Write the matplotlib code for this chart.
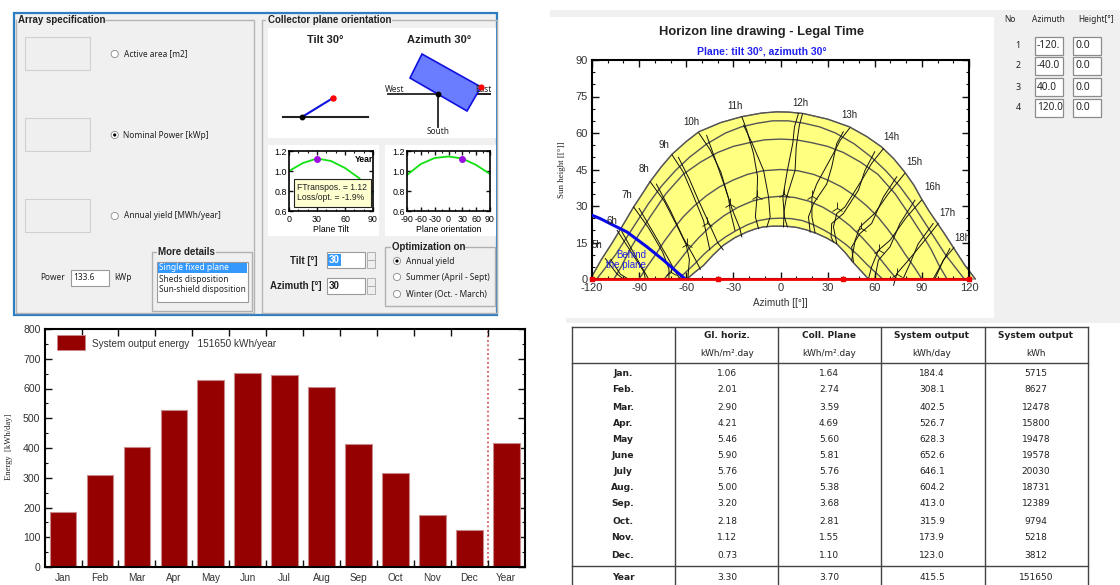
import matplotlib
matplotlib.use('Agg')
import matplotlib.pyplot as plt
from matplotlib.patches import Rectangle, Circle, Polygon

plt.rcParams['font.family'] = ['Liberation Sans', 'DejaVu Sans']
plt.rcParams['axes.unicode_minus'] = False

# bar chart / table values
months_short = ['Jan', 'Feb', 'Mar', 'Apr', 'May', 'Jun', 'Jul', 'Aug', 'Sep', 'Oct', 'Nov', 'Dec', 'Year']
months_table = ['Jan.', 'Feb.', 'Mar.', 'Apr.', 'May', 'June', 'July', 'Aug.', 'Sep.', 'Oct.', 'Nov.', 'Dec.', 'Year']
gl_horiz = [1.06, 2.01, 2.90, 4.21, 5.46, 5.90, 5.76, 5.00, 3.20, 2.18, 1.12, 0.73, 3.30]
coll_plane = [1.64, 2.74, 3.59, 4.69, 5.60, 5.81, 5.76, 5.38, 3.68, 2.81, 1.55, 1.10, 3.70]
output_day = [184.4, 308.1, 402.5, 526.7, 628.3, 652.6, 646.1, 604.2, 413.0, 315.9, 173.9, 123.0, 415.5]
output_kwh = [5715, 8627, 12478, 15800, 19478, 19578, 20030, 18731, 12389, 9794, 5218, 3812, 151650]

# small orientation plots
tilt_x = [0, 15, 30, 45, 60, 75, 90]
tilt_y = [1.0, 1.08, 1.125, 1.1, 1.03, 0.93, 0.77]
orient_x = [-90, -60, -30, 0, 30, 60, 90]
orient_y = [0.96, 1.07, 1.13, 1.145, 1.125, 1.06, 0.97]

# horizon table
horizon_no = [1, 2, 3, 4]
horizon_az = [-120.0, -40.0, 40.0, 120.0]
horizon_az_txt = ['-120.', '-40.0', '40.0', '120.0']
horizon_h = [0.0, 0.0, 0.0, 0.0]

# sun paths, (azimuth, height)
path_jun = [(-121, 0), (-114, 8), (-107, 15), (-100, 22.5), (-93.5, 29.6), (-88, 35), (-83, 40), (-76, 46), (-69, 51.3),
            (-60, 56.5), (-52, 60.5), (-38, 64.3), (-24.7, 66.7), (-12, 68.2), (-2.4, 68.7), (5, 68.6), (14.5, 68),
            (30, 65.7), (44, 62.5), (55, 58.5), (64.3, 54.3), (72, 49.5), (79, 44), (85, 38.5), (89.7, 33), (95, 27.5),
            (100, 22.8), (105, 18), (110, 13), (117, 6), (124, 0)]
path_may = [(-117, 0), (-111, 5), (-105, 10), (-98.5, 16.5), (-92, 23), (-84, 31), (-76, 38), (-67, 44.5), (-58, 50),
            (-47, 55.5), (-35, 60), (-25, 62.5), (-15, 64), (-5, 65), (5, 65), (15, 64), (25, 62.5), (35, 60), (47, 55.5),
            (58, 50), (67, 44.5), (76, 38), (84, 31), (92, 23), (98.5, 16.5), (105, 10), (111, 5), (117, 0)]
path_apr = [(-106, 0), (-101, 5.5), (-96, 12), (-90, 18.5), (-83, 25.5), (-73, 35), (-62, 43), (-51, 48), (-40, 52),
            (-30, 54.5), (-20, 56), (-10, 57.2), (0, 57.5), (10, 57.2), (20, 56), (30, 54.5), (40, 52), (51, 48), (62, 43),
            (73, 35), (83, 25.5), (90, 18.5), (96, 12), (101, 5.5), (106, 0)]
path_mar = [(-90, 0), (-85, 5), (-79, 10.5), (-74, 15.5), (-68, 20.7), (-62, 25.5), (-55, 30), (-47, 34.3), (-39, 37.8),
            (-30, 40.7), (-21, 43), (-11, 44.5), (0, 45), (11, 44.5), (21, 43), (30, 40.7), (39, 37.8), (47, 34.3), (55, 30),
            (62, 25.5), (68, 20.7), (74, 15.5), (79, 10.5), (85, 5), (90, 0)]
path_feb = [(-74, 0), (-70, 3), (-65, 7), (-59, 12), (-52, 17), (-44, 22), (-36, 26), (-27, 29.5), (-18, 32), (-9, 33.5),
            (0, 34), (9, 33.5), (18, 32), (27, 29.5), (36, 26), (44, 22), (52, 17), (59, 12), (65, 7), (70, 3), (74, 0)]
path_jan = [(-65, 0), (-60, 3), (-55, 6), (-49, 10), (-42, 14), (-35, 17.3), (-28, 20), (-21, 22.3), (-14, 24), (-7, 24.8),
            (0, 25), (7, 24.8), (14, 24), (21, 22.3), (28, 20), (35, 17.3), (42, 14), (49, 10), (55, 6), (60, 3), (65, 0)]
path_dec = [(-59.6, 0), (-54.5, 2.8), (-49, 5.6), (-43, 9.8), (-36.3, 13.9), (-29, 17), (-21.5, 19.3), (-16, 20.6),
            (-11, 21.4), (-5, 21.7), (0, 21.7), (5, 21.6), (10.3, 21.2), (16.5, 20.2), (23, 18.7), (29.5, 16.8),
            (35.7, 14.5), (41, 11), (46, 7), (51, 3.5), (56, 0)]
sun_paths = [path_jun, path_may, path_apr, path_mar, path_feb, path_jan, path_dec]

# hour lines, two strands per hour
hour_lines = [
    [(-111.5, 8.4), (-104, 2), (-100, 0)],
    [(-108, 8), (-102, 2), (-97, 0)],
    [(-104, 20), (-94, 10), (-87, 3), (-86, 0)],
    [(-101, 19.5), (-92, 9), (-84, 0)],
    [(-93.5, 29.6), (-84, 21), (-75, 11), (-71, 4), (-71, 0)],
    [(-90, 29), (-80, 18), (-72, 9), (-66, 2), (-64, 0)],
    [(-83, 40), (-74, 32), (-66, 22), (-60, 14), (-58, 8), (-59, 0)],
    [(-79, 39), (-70, 28), (-62, 17), (-55, 9), (-51, 4)],
    [(-69, 51), (-62, 44), (-56, 35), (-49, 24), (-47, 18), (-45, 12)],
    [(-65, 50), (-58, 41), (-52, 32), (-47, 25), (-40, 15), (-36.5, 12)],
    [(-52, 60), (-44.7, 53), (-38, 44), (-33, 33), (-32, 28), (-29, 20)],
    [(-47, 59), (-42, 50), (-36, 39), (-31, 29), (-26, 21), (-24.6, 17.3)],
    [(-24.6, 66.7), (-21.4, 61), (-17.2, 51.6), (-14.6, 42), (-15, 33.7), (-16, 25.5), (-14, 20.7)],
    [(-23.5, 63.2), (-18, 55.7), (-10.8, 44.7), (-7.6, 33.7), (-6.6, 25.5), (-8.7, 21.4)],
    [(11.4, 68), (8.9, 62.5), (7.8, 55.7), (4.4, 44.7), (1.5, 33.7), (2.5, 25.5), (4.4, 21.4)],
    [(14, 67.8), (12, 63.2), (10, 54.3), (9.3, 44.7), (3.6, 33), (2.3, 28), (1.9, 21.4)],
    [(44, 62), (38, 57), (33.7, 51.6), (23, 39), (20, 33.7), (20, 25.5), (22, 19)],
    [(40, 60.5), (35.8, 55.7), (32.6, 46), (29.4, 39), (21, 31), (17.8, 25.5), (18.9, 19.3)],
    [(65.5, 53.6), (58, 47.5), (51.7, 40.6), (41, 29.6), (35.8, 26.9), (33.7, 21.4), (35.8, 14.5)],
    [(60, 52.3), (53.8, 44.7), (49.6, 36.5), (40, 26.9), (32.6, 22.8), (32.2, 17.3), (33.7, 15.2)],
    [(79, 43.3), (68.6, 35), (60, 27), (50.6, 21.4), (47.5, 15.9), (45.3, 7.7)],
    [(74, 42), (65.5, 33.7), (58, 22.8), (50.6, 18.7), (45.3, 13.2), (46.4, 7)],
    [(89.8, 32.4), (80.3, 25.5), (69.7, 15.9), (62.3, 11.8), (58, 5), (56, 0)],
    [(85.6, 32.4), (76, 22.8), (69.7, 13.2), (62.3, 7.7), (60, 0)],
    [(100.4, 22.8), (91, 15.2), (81.4, 7.7), (74, 2.2), (72, -2.6)],
    [(97.2, 22.8), (87.7, 14.5), (82.4, 6.3), (78, 0)],
    [(110.4, 12.9), (103.6, 7.7), (98.3, 0)],
    [(107.8, 12.5), (101.5, 5), (97.2, 0)],
]
arrow_az = [-70, -59.5, -47, -32, -15, 2.5, 20, 36, 51, 63, 74]
arrow_h = [3, 14.5, 23, 31, 34, 35, 34, 29, 21, 12, 2]

hour_names = ['5h', '6h', '7h', '8h', '9h', '10h', '11h', '12h', '13h', '14h', '15h', '16h', '17h', '18h']
hour_label_az = [-117, -107.6, -97.7, -86.6, -74.2, -57, -29.2, 12.5, 43.9, 70.6, 85.1, 96.5, 106.3, 115.8]
hour_label_h = [13.9, 23.9, 34.4, 45, 55.2, 64.5, 71.2, 72.2, 67.3, 58.3, 48, 37.7, 27.3, 16.9]

behind_az = [-120, -114.7, -107, -97.7, -85, -74.4, -66, -60.6]
behind_h = [26.2, 24.8, 22.3, 19.3, 13.2, 7.7, 2.9, 0]

UI = '#f0f0f0'
SANS = ['Noto Sans', 'DejaVu Sans']
TAHOMA = ['DejaVu Sans']

fig = plt.figure(figsize=(11.2, 5.85), dpi=100)
bg = fig.add_axes([0, 0, 1, 1])
bg.set_xlim(0, 1120)
bg.set_ylim(585, 0)
bg.axis('off')

# drawn above every other axes
overlay = fig.add_axes([0, 0, 1, 1])
overlay.set_xlim(0, 1120)
overlay.set_ylim(585, 0)
overlay.axis('off')
overlay.set_zorder(10)


def px_axes(l, t, r, b):
    return fig.add_axes([l / 1120, 1 - b / 585, (r - l) / 1120, (b - t) / 585])


def box(x0, y0, x1, y1, fc='none', ec='none', lw=1, z=1):
    bg.add_patch(Rectangle((x0, y0), x1 - x0, y1 - y0, fc=fc, ec=ec, lw=lw, zorder=z))


def label(x, y, s, size=6, ha='left', weight='normal', color='#222222', z=6, family=SANS):
    # Noto Sans has no bold face here
    if weight == 'bold' and family == SANS:
        family = ['Liberation Sans']
        size = size + 0.8
    bg.text(x, y, s, fontsize=size, ha=ha, va='center', fontweight=weight, color=color, zorder=z, family=family)


def radio(x, y, on=False):
    bg.add_patch(Circle((x, y), 3.6, fc='white', ec='#8a8a8a', lw=0.6, zorder=5))
    if on:
        bg.add_patch(Circle((x, y), 1.6, fc='black', ec='none', zorder=6))


def setup_frame(ax, lw=1.5, major=5, minor=2.5):
    for s in ax.spines.values():
        s.set_linewidth(lw)
    ax.tick_params(which='major', direction='in', top=True, right=True, length=major, width=1, color='#111111')
    ax.tick_params(which='minor', direction='in', top=True, right=True, length=minor, width=0.8, color='#111111')


# ---- array dialog
box(14, 13, 497, 315, fc=UI, ec='#2e7dc0', lw=1.6, z=1)
box(16, 20, 254, 313, ec='#b4b4b4', z=2)
box(17, 15, 105, 23, fc=UI, z=2)
label(18, 20, 'Array specification', 6.2, weight='bold')
for y in [37, 118, 199]:
    box(25, y, 90, y + 33, fc='#efefef', ec='#d0d0d0', lw=0.8, z=3)
radio(114.7, 54)
radio(114.7, 135, True)
radio(114.7, 216)
label(124, 54, 'Active area [m2]')
label(123, 135, 'Nominal Power [kWp]')
label(124, 216, 'Annual yield [MWh/year]')
label(40, 278, 'Power')
box(71, 270, 109, 286, fc='white', ec='#9a9a9a', lw=0.8, z=3)
label(73, 277, '133.6')
label(114, 278, 'kWp')
box(152, 252, 252, 311, ec='#b0b0b0', lw=1, z=2)
box(157, 247, 216, 256, fc=UI, z=2)
label(158, 252, 'More details', 6.2, weight='bold')
box(157, 262, 248, 302, fc='white', ec='#9a9a9a', lw=0.8, z=3)
box(158, 263, 247, 273, fc='#3399ff', z=4)
label(159, 268, 'Single fixed plane', color='white')
label(159, 279, 'Sheds disposition')
label(159, 290, 'Sun-shield disposition')

box(262, 20, 497, 313, ec='#b4b4b4', z=2)
box(266, 15, 392, 23, fc=UI, z=2)
label(268, 20, 'Collector plane orientation', 6.2, weight='bold')
box(268, 28, 496, 138, fc='white', z=3)
box(268, 145, 379, 236, fc='white', z=3)
box(385, 145, 496, 236, fc='white', z=3)
label(325, 40, 'Tilt 30°', 7.2, ha='center', weight='bold')
label(439, 40, 'Azimuth 30°', 7.2, ha='center', weight='bold')

# tilt sketch
bg.plot([283, 368], [117, 117], color='#222222', lw=1.5, zorder=4)
bg.plot([302, 333], [117, 98], color='#1010e0', lw=1.5, zorder=5)
bg.plot([302], [117], 'o', color='black', ms=3.2, zorder=6)
bg.plot([333], [98], 'o', color='red', ms=3.6, zorder=6)
# azimuth sketch
label(395, 89, 'West', 6, ha='center')
label(483, 89, 'East', 6, ha='center')
bg.plot([388, 490], [94, 94], color='#222222', lw=1.3, zorder=5)
bg.add_patch(Polygon([(422, 54), (481, 87), (467, 111), (410, 78)], fc='#6a7cff', ec='#1010e0', lw=1.2, zorder=5.5))
bg.plot([438, 490], [94, 94], color='#222222', lw=1.3, zorder=5.2)
bg.plot([438, 438], [94, 127], color='#222222', lw=1.3, zorder=6)
bg.plot([438], [94], 'o', color='black', ms=3.2, zorder=7)
bg.plot([481], [87], 'o', color='red', ms=3.4, zorder=7)
label(438, 132, 'South', 6, ha='center')

# small transposition plots
ax1 = px_axes(289, 151, 373, 211)
ax1.plot(tilt_x, tilt_y, color='#11e011', lw=1.3)
ax1.plot([30], [tilt_y[2]], 'o', color='#9a10e0', ms=4)
ax1.set_xlim(0, 90)
ax1.set_ylim(0.6, 1.2)
ax1.set_xticks([0, 30, 60, 90])
ax1.set_xticks(range(0, 91, 10), minor=True)
ax1.set_yticks([0.6, 0.8, 1.0, 1.2])
ax1.tick_params(labelsize=6.4, pad=1.5)
ax1.tick_params(axis='x', pad=3)
ax1.set_xlabel('Plane Tilt', fontsize=6.2, labelpad=0.5)
ax1.text(80, 1.12, 'Year', fontsize=6.2, fontweight='bold', ha='center', va='center')
setup_frame(ax1, 1.2, 3, 1.5)

ax2 = px_axes(407, 151, 490, 211)
ax2.plot(orient_x, orient_y, color='#11e011', lw=1.3)
ax2.plot([30], [orient_y[4]], 'o', color='#9a10e0', ms=4)
ax2.set_xlim(-90, 90)
ax2.set_ylim(0.6, 1.2)
ax2.set_xticks([-90, -60, -30, 0, 30, 60, 90])
ax2.set_xticks(range(-90, 91, 15), minor=True)
ax2.set_yticks([0.6, 0.8, 1.0, 1.2])
ax2.tick_params(labelsize=6.4, pad=1.5)
ax2.tick_params(axis='x', pad=3)
ax2.set_xlabel('Plane orientation', fontsize=6.2, labelpad=0.5)
setup_frame(ax2, 1.2, 3, 1.5)

# tooltip goes over the first small plot
overlay.add_patch(Rectangle((294, 179), 77, 28, fc='#ffffd0', ec='#222222', lw=0.8))
overlay.text(297, 187, 'FTranspos. = 1.12', fontsize=6.2, va='center', color='#222222')
overlay.text(297, 198, 'Loss/opt. = -1.9%', fontsize=6.2, va='center', color='#222222')

# tilt / azimuth inputs
label(317, 261, 'Tilt [°]', 6.2, ha='right', weight='bold')
label(322, 286, 'Azimuth [°]', 6.2, ha='right', weight='bold')
box(327, 252, 365, 268, fc='white', ec='#9a9a9a', lw=0.8, z=3)
box(328, 254, 341, 266, fc='#3399ff', z=4)
label(329, 260, '30', 6.2, color='white', weight='bold')
box(327, 278, 365, 294, fc='white', ec='#9a9a9a', lw=0.8, z=3)
label(329, 286, '30', 6.2, weight='bold')
for y in [252, 278]:
    box(367, y, 375, y + 8, fc='#efefef', ec='#a8a8a8', lw=0.6, z=3)
    box(367, y + 8, 375, y + 16, fc='#efefef', ec='#a8a8a8', lw=0.6, z=3)
box(385, 247, 495, 306, ec='#b0b0b0', z=2)
box(391, 243, 464, 251, fc=UI, z=2)
label(392, 247, 'Optimization on', 6.2, weight='bold')
radio(397, 261, True)
radio(397, 277)
radio(397, 294)
label(406, 261, 'Annual yield')
label(406, 277, 'Summer (April - Sept)')
label(406, 294, 'Winter (Oct. - March)')

# ---- horizon window
box(550, 10, 1120, 17, fc=UI, z=0)
box(994, 10, 1120, 318, fc=UI, z=0)
box(566, 318, 1120, 323, fc=UI, z=0)
label(1010, 20, 'No', 6, ha='center')
label(1048, 20, 'Azimuth', 6, ha='center')
label(1096, 20, 'Height[°]', 6, ha='center')
for i, no in enumerate(horizon_no):
    y = [46, 66, 87, 108][i]
    label(1018, y, str(no), 6.4, ha='center')
    box(1035, y - 9, 1063, y + 9, fc='white', ec='#8c8c8c', lw=0.9, z=3)
    box(1073, y - 9, 1101, y + 9, fc='white', ec='#8c8c8c', lw=0.9, z=3)
    label(1037, y, horizon_az_txt[i], 7.2)
    label(1075, y, f'{horizon_h[i]:.1f}', 7.5)

bg.text(762, 32, 'Horizon line drawing - Legal Time', fontsize=9.3, fontweight='bold', ha='center', va='center', color='#222222', zorder=6)
bg.text(762, 52, 'Plane: tilt 30°, azimuth 30°', fontsize=7.5, fontweight='bold', ha='center', va='center', color='#2020f0', zorder=6)
bg.text(562, 170, 'Sun height [[°]]', fontsize=6.4, rotation=90, ha='center', va='center', family='Liberation Serif', zorder=6, color='#222222')
bg.text(780, 303, 'Azimuth [[°]]', fontsize=7.2, ha='center', va='center', color='#333333', zorder=6)

ax = px_axes(592, 60, 969, 279)
outline = path_jun + path_dec[::-1]
ax.fill([p[0] for p in outline], [p[1] for p in outline], fc='#ffff80', ec='#777777', lw=0.8, clip_on=False, zorder=1)
for path in sun_paths:
    ax.plot([p[0] for p in path], [p[1] for p in path], color='#555555', lw=1.0, clip_on=False, zorder=2)
for strand in hour_lines:
    ax.plot([p[0] for p in strand], [p[1] for p in strand], color='#111111', lw=0.7, clip_on=False, zorder=3)
ax.plot(arrow_az, arrow_h, ls='none', marker='2', color='#111111', ms=9, mew=0.6, zorder=3)
ax.plot(behind_az, behind_h, color='#0808e8', lw=2.2, zorder=4)
ax.plot(horizon_az, horizon_h, color='#f00000', lw=2, marker='s', ms=3, clip_on=False, zorder=5)
for name, a, h in zip(hour_names, hour_label_az, hour_label_h):
    ax.text(a, h, name, fontsize=7, ha='center', va='center', color='#222222', zorder=6)
ax.text(-94.7, 10, 'Behind', fontsize=7, color='#2020f0', ha='center', va='center', zorder=6)
ax.text(-98.5, 5.6, 'the plane', fontsize=7, color='#2020f0', ha='center', va='center', zorder=6)
ax.set_xlim(-120, 120)
ax.set_ylim(0, 90)
ax.set_xticks(range(-120, 121, 30))
ax.set_xticks(range(-120, 121, 10), minor=True)
ax.set_yticks(range(0, 91, 15))
ax.set_yticks(range(0, 91, 5), minor=True)
ax.tick_params(labelsize=8, pad=3, labelcolor='#333333')
setup_frame(ax, 1.5)

# ---- monthly bars
bars = px_axes(44.6, 329, 524.7, 567)
xpos = list(range(len(months_short)))
bars.bar(xpos, output_day, width=0.72, color='#950000', edgecolor='#c88a8a', linewidth=0.8, zorder=2)
bars.axvline(11.51, color='#d04040', ls=':', lw=1.2, zorder=1)
bars.set_xlim(-0.5, 12.5)
bars.set_ylim(0, 800)
bars.set_xticks([i + 0.5 for i in xpos[:-1]])
bars.set_xticklabels([])
bars.set_yticks(range(0, 801, 100))
bars.set_yticks(range(0, 801, 50), minor=True)
bars.tick_params(labelsize=7.6, pad=3, labelcolor='#333333')
setup_frame(bars, 1.5)
for i, m in zip(xpos, months_short):
    bars.text(i, -21, m, fontsize=7.2, ha='center', va='top', color='#333333', clip_on=False)
overlay.add_patch(Rectangle((56.5, 335), 28.5, 15, fc='#950000', ec='#c88a8a', lw=0.6))
overlay.text(92, 344, f'System output energy   {output_kwh[-1]} kWh/year', fontsize=7.2, va='center', color='#333333')
bg.text(9.5, 447, 'Energy  [kWh/day]', fontsize=6.2, rotation=90, ha='center', va='center', family='Liberation Serif', color='#222222', zorder=6)

# ---- table
col_x = [572, 675, 778, 881, 985, 1087.5]
col_mid = [623, 727, 829, 932, 1036]
row_y = [373, 390, 407, 423, 439, 455, 472, 488, 504, 521, 537, 556, 578]
for x in col_x:
    bg.plot([x, x], [327, 585], color='#444444', lw=1, zorder=3)
for y in [327, 363, 566]:
    bg.plot([572, 1087.5], [y, y], color='#444444', lw=1, zorder=3)
heads = ['Gl. horiz.', 'Coll. Plane', 'System output', 'System output']
units = ['kWh/m².day', 'kWh/m².day', 'kWh/day', 'kWh']
for x, head, unit in zip(col_mid[1:], heads, units):
    label(x, 336, head, 6.5, ha='center', weight='bold', family=TAHOMA)
    label(x, 354, unit, 6.4, ha='center', family=TAHOMA)
for i, y in enumerate(row_y):
    label(col_mid[0], y, months_table[i], 6.6, ha='center', weight='bold', family=TAHOMA)
    label(col_mid[1], y, f'{gl_horiz[i]:.2f}', 6.5, ha='center', family=TAHOMA)
    label(col_mid[2], y, f'{coll_plane[i]:.2f}', 6.5, ha='center', family=TAHOMA)
    label(col_mid[3], y, f'{output_day[i]:.1f}', 6.5, ha='center', family=TAHOMA)
    label(col_mid[4], y, str(output_kwh[i]), 6.5, ha='center', family=TAHOMA)

fig.savefig('out.png', dpi=100)
